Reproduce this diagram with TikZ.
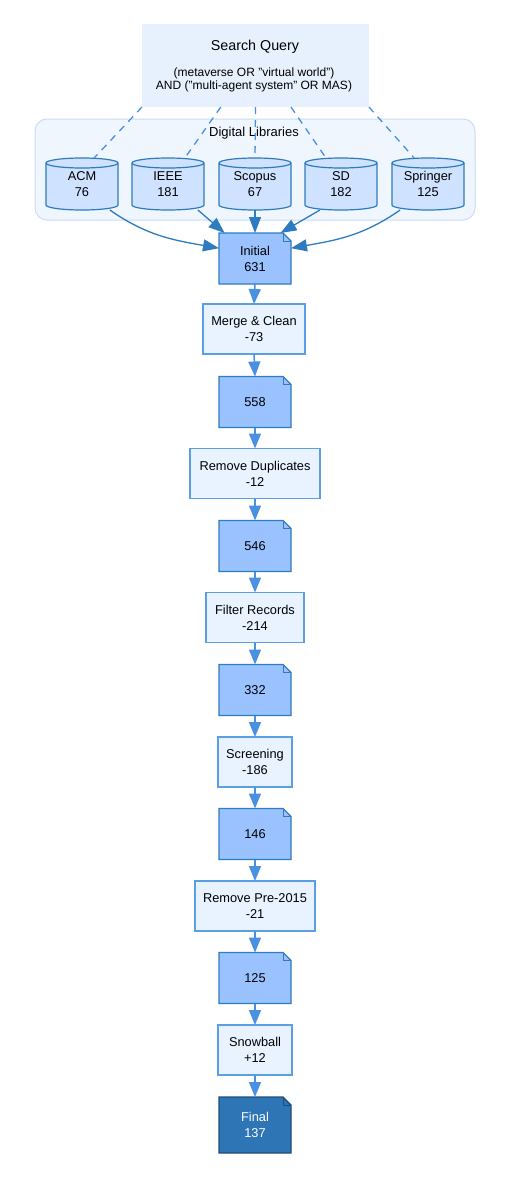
\documentclass[tikz,border=0pt]{standalone}
\usepackage{fontspec}
\setmainfont{Liberation Sans}
\usetikzlibrary{arrows.meta,backgrounds,calc}

\definecolor{qfill}{HTML}{E6F1FD}
\definecolor{clfill}{HTML}{F0F6FE}
\definecolor{clline}{HTML}{C9DDF5}
\definecolor{cylfill}{HTML}{CFE2FF}
\definecolor{darkline}{HTML}{2E7CBF}
\definecolor{notefill}{HTML}{99C2FF}
\definecolor{procfill}{HTML}{E8F3FF}
\definecolor{procline}{HTML}{5A9FE6}
\definecolor{flowline}{HTML}{4A90E2}
\definecolor{finfill}{HTML}{2E75B6}
\definecolor{finline}{HTML}{1F4E79}

\tikzset{
  txt/.style={align=center, font=\fontsize{12.8}{16}\selectfont, inner sep=0pt, outer sep=0pt},
  procbox/.style={txt, draw=procline, fill=procfill, line width=1.3pt, minimum height=50},
  notebox/.style={txt, minimum width=72, minimum height=51},
  cylbox/.style={txt, minimum width=72, minimum height=52},
  notedraw/.style={draw=darkline, fill=notefill, line width=1.2pt, line join=miter},
  findraw/.style={draw=finline, fill=finfill, line width=1.4pt},
  cyldraw/.style={draw=darkline, fill=cylfill, line width=1.2pt},
  flow/.style={draw=flowline, line width=1.5pt, -{Triangle[length=15pt,width=12pt]}},
  srcedge/.style={draw=darkline, line width=1.3pt, -{Triangle[length=16pt,width=12pt]}},
  qedge/.style={draw=flowline, line width=1.3pt, dash pattern=on 7pt off 6pt},
}

\begin{document}
\begin{tikzpicture}[x=1pt,y=1pt]
\useasboundingbox (0,0) rectangle (510,-1178);

% query box
\node[draw=none, fill=qfill, minimum width=227, minimum height=83, inner sep=0pt, outer sep=0pt] (q) at (255.5,-65.5) {};
\node[txt, font=\fontsize{14.3}{16}\selectfont] (qtitle) at (255,-47) {Search Query};
\node[txt, font=\fontsize{12}{13}\selectfont] (qtext) at (254,-79.5) {(metaverse OR "virtual world")\\AND ("multi-agent system" OR MAS)};

% source databases
\node[cylbox] (acm) at (82,-184) {ACM\\76};
\node[cylbox] (ieee) at (168,-184) {IEEE\\181};
\node[cylbox] (scopus) at (255,-184) {Scopus\\67};
\node[cylbox] (sd) at (341,-184) {SD\\182};
\node[cylbox] (springer) at (428,-184) {Springer\\125};

% pipeline
\node[notebox] (init) at (255,-258.5) {Initial\\631};
\node[procbox, minimum width=102] (mc) at (254,-329) {Merge \& Clean\\-73};
\node[notebox] (n558) at (255,-402) {558};
\node[procbox, minimum width=130] (rd) at (255,-473.5) {Remove Duplicates\\-12};
\node[notebox] (n546) at (255,-546) {546};
\node[procbox, minimum width=98] (fr) at (255,-617.5) {Filter Records\\-214};
\node[notebox] (n332) at (255,-690) {332};
\node[procbox, minimum width=74] (scr) at (255,-762) {Screening\\-186};
\node[notebox] (n146) at (255,-834) {146};
\node[procbox, minimum width=120] (rp) at (255,-906) {Remove Pre-2015\\-21};
\node[notebox] (n125) at (255,-978) {125};
\node[procbox, minimum width=74] (sb) at (255,-1050) {Snowball\\+12};
\node[notebox, minimum height=56, text=white] (fin) at (255,-1125) {Final\\137};

% cluster, cylinder and note outlines, behind the labels
\begin{scope}[on background layer]
  \node[draw=clline, fill=clfill, line width=1pt, rounded corners=12pt, minimum width=440, minimum height=101, inner sep=0pt, outer sep=0pt] (dl) at (255,-169.5) {};
  \node[txt, font=\fontsize{13}{14}\selectfont] (dllabel) at (254,-133) {Digital Libraries};
  \foreach \n in {acm,ieee,scopus,sd,springer} {
    \path[cyldraw] ([yshift=-5pt]\n.north west) -- ([yshift=5pt]\n.south west)
      arc[start angle=180, end angle=360, x radius=36, y radius=5]
      -- ([yshift=-5pt]\n.north east)
      arc[start angle=0, end angle=180, x radius=36, y radius=5] -- cycle;
    \draw[darkline, line width=1.2pt] ([yshift=-5pt]\n.north west)
      arc[start angle=180, end angle=360, x radius=36, y radius=5];
  }
  \foreach \n/\s in {init/notedraw,n558/notedraw,n546/notedraw,n332/notedraw,n146/notedraw,n125/notedraw,fin/findraw} {
    \path[\s] (\n.north west) -- ([xshift=-8pt]\n.north east) -- ([yshift=-8pt]\n.north east)
      -- (\n.south east) -- (\n.south west) -- cycle;
    \draw[\s, fill=none, line width=0.9pt] ([xshift=-8pt]\n.north east) -- ([xshift=-8pt,yshift=-8pt]\n.north east)
      -- ([yshift=-8pt]\n.north east);
  }
\end{scope}

% query to libraries
\draw[qedge] (q.south west) -- (acm.65);
\draw[qedge] ($(q.south west)!0.347!(q.south east)$) -- (ieee.57);
\draw[qedge] (q.south) -- (scopus.north);
\draw[qedge] ($(q.south west)!0.656!(q.south east)$) -- (sd.120);
\draw[qedge] (q.south east) -- (springer.118);

% libraries to initial set
\draw[srcedge] (acm.-43) to[out=-35, in=170] (init.164);
\draw[srcedge] (ieee.-41) -- (init.140);
\draw[srcedge] (scopus.south) -- (init.north);
\draw[srcedge] (sd.-129) -- (init.45);
\draw[srcedge] (springer.-137) to[out=-145, in=10] (init.16);

% pipeline flow
\draw[flow] (init.south) -- (mc.north);
\draw[flow] (mc.south) -- (n558.north);
\draw[flow] (n558.south) -- (rd.north);
\draw[flow] (rd.south) -- (n546.north);
\draw[flow] (n546.south) -- (fr.north);
\draw[flow] (fr.south) -- (n332.north);
\draw[flow] (n332.south) -- (scr.north);
\draw[flow] (scr.south) -- (n146.north);
\draw[flow] (n146.south) -- (rp.north);
\draw[flow] (rp.south) -- (n125.north);
\draw[flow] (n125.south) -- (sb.north);
\draw[flow] (sb.south) -- (fin.north);
\end{tikzpicture}
\end{document}
